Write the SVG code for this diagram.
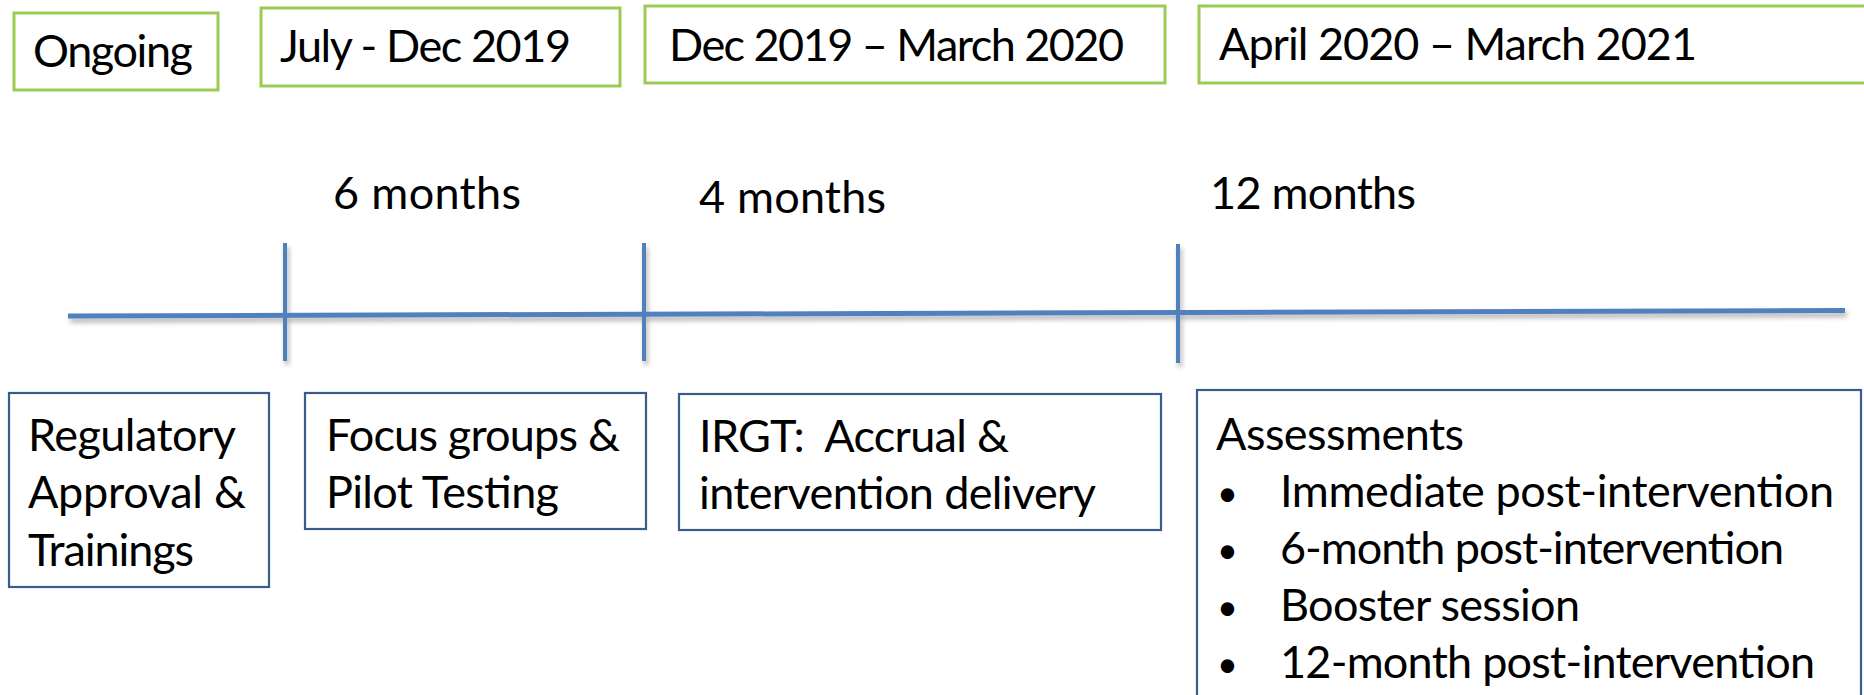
<svg xmlns="http://www.w3.org/2000/svg" width="1864" height="695" viewBox="0 0 1864 695">
  <style>
    .period rect { fill: #ffffff; stroke: #9BCB55; stroke-width: 3; }
    .phase rect { fill: #ffffff; stroke: #385D8A; stroke-width: 2.2; }
    text { font-family: Lato, "Open Sans", "Liberation Sans", sans-serif; font-size: 45px; fill: #000000; }
    .bullet { font-size: 36px; }
    .axis line { stroke: #4F81BD; stroke-linecap: butt; }
  </style>
  <defs>
    <filter id="soft-shadow" x="-5%" y="-50%" width="110%" height="300%">
      <feDropShadow dx="2" dy="4" stdDeviation="2.5" flood-color="#000000" flood-opacity="0.3"/>
    </filter>
  </defs>

  <!-- date ranges across the top -->
  <g id="period-ongoing" class="period">
    <rect x="14" y="13" width="204" height="77"/>
    <text x="33" y="67" textLength="160">Ongoing</text>
  </g>
  <g id="period-jul-dec-2019" class="period">
    <rect x="261" y="8" width="359" height="78"/>
    <text x="280" y="62" textLength="291">July - Dec 2019</text>
  </g>
  <g id="period-dec-2019-mar-2020" class="period">
    <rect x="645" y="6" width="520" height="77"/>
    <text x="669" y="61" textLength="455">Dec 2019 – March 2020</text>
  </g>
  <g id="period-apr-2020-mar-2021" class="period">
    <rect x="1199" y="6" width="700" height="77"/>
    <text x="1219" y="60" textLength="478">April 2020 – March 2021</text>
  </g>

  <!-- durations above the axis -->
  <g id="duration-6">
    <text x="333" y="209" textLength="188">6 months</text>
  </g>
  <g id="duration-4">
    <text x="699" y="213" textLength="187">4 months</text>
  </g>
  <g id="duration-12">
    <text x="1210" y="209" textLength="206">12 months</text>
  </g>

  <!-- timeline axis and milestone ticks -->
  <g id="connectors" class="axis" filter="url(#soft-shadow)">
    <line x1="68" y1="316" x2="1845" y2="310.5" stroke-width="5"/>
    <line x1="285" y1="243" x2="285" y2="361" stroke-width="4"/>
    <line x1="644" y1="243" x2="644" y2="361" stroke-width="4"/>
    <line x1="1178" y1="244" x2="1178" y2="363" stroke-width="4"/>
  </g>

  <!-- activities below the axis -->
  <g id="phase-regulatory" class="phase">
    <rect x="9" y="393" width="260" height="194"/>
    <text x="28" y="451" textLength="208">Regulatory</text>
    <text x="28" y="508" textLength="218">Approval &amp;</text>
    <text x="28" y="566" textLength="166">Trainings</text>
  </g>
  <g id="phase-focus-groups" class="phase">
    <rect x="305" y="393" width="341" height="136"/>
    <text x="326" y="451" textLength="294">Focus groups &amp;</text>
    <text x="326" y="508" textLength="233">Pilot Testing</text>
  </g>
  <g id="phase-irgt" class="phase">
    <rect x="679" y="394" width="482" height="136"/>
    <text x="699" y="452" textLength="310" xml:space="preserve">IRGT:  Accrual &amp;</text>
    <text x="699" y="509" textLength="397">intervention delivery</text>
  </g>
  <g id="phase-assessments" class="phase">
    <rect x="1197" y="390" width="664" height="320"/>
    <text x="1216" y="450" textLength="248">Assessments</text>
    <text class="bullet" x="1217" y="506">•</text>
    <text x="1280" y="507" textLength="554">Immediate post-intervention</text>
    <text class="bullet" x="1217" y="563">•</text>
    <text x="1280" y="564" textLength="504">6-month post-intervention</text>
    <text class="bullet" x="1217" y="620">•</text>
    <text x="1280" y="621" textLength="300">Booster session</text>
    <text class="bullet" x="1217" y="677">•</text>
    <text x="1280" y="678" textLength="535">12-month post-intervention</text>
  </g>
</svg>
